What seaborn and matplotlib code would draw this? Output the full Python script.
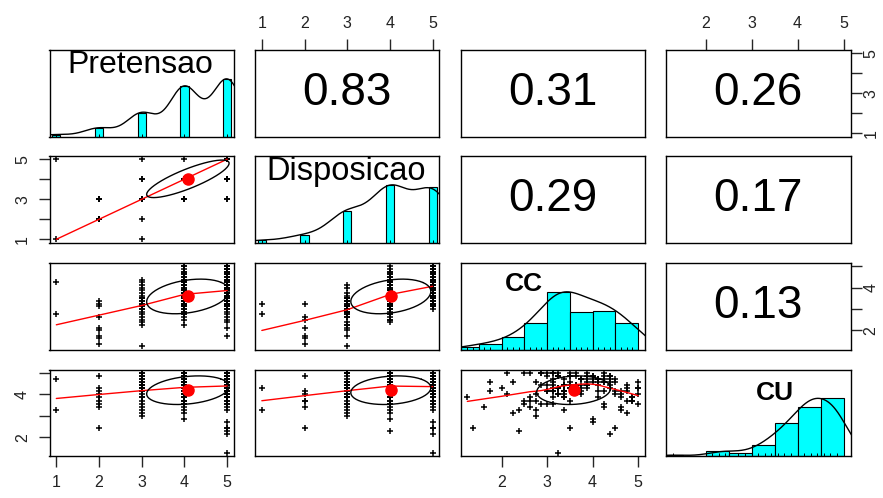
import numpy as np
import pandas as pd
import matplotlib
matplotlib.use("Agg")
import matplotlib.pyplot as plt
import seaborn as sns

# 150 respondents, listed roughly by Pretensao group
pretensao = [1, 1,
             2, 2, 2, 2, 2, 2, 2, 2, 2,
             3, 3, 3, 3, 3, 3, 3, 3, 3, 3,
             3, 3, 3, 3, 3, 3, 3, 3, 3, 3,
             4, 4, 3, 3, 3, 3, 3,
             4, 4, 4, 4, 4, 4, 4, 4, 4, 4,
             4, 4, 4, 4, 4, 4, 4, 4, 4, 4,
             4, 4, 4, 4, 4, 4, 4, 4, 4, 4,
             4, 4, 4, 4, 4, 4, 4, 4, 4, 4,
             4, 4, 4, 4, 4, 4, 4, 4, 4, 4,
             4,
             5, 5, 5, 5, 5, 5, 5, 5, 5, 5,
             5, 5, 5, 5, 5, 5, 5, 5, 5, 5,
             5, 5, 5, 5, 5, 5, 5, 5, 5, 5,
             5, 5, 5, 5, 5, 5, 5, 5, 5, 5,
             5, 5, 5, 5, 5, 5, 5, 5, 5, 5,
             5, 5, 5, 5, 5, 5, 5, 5, 5, 5,
             5]
disposicao = [1, 5,
              3, 2, 3, 2, 2, 3, 2, 2, 2,
              1, 2, 3, 3, 3, 3, 3, 3, 3, 3,
              3, 3, 3, 3, 3, 3, 3, 3, 3, 3,
              3, 3, 3, 3, 4, 4, 5,
              4, 4, 4, 4, 4, 4, 4, 4, 4, 4,
              4, 4, 3, 4, 4, 4, 4, 4, 3, 4,
              4, 4, 4, 4, 4, 4, 5, 3, 4, 4,
              4, 4, 4, 4, 4, 4, 4, 4, 4, 4,
              4, 4, 4, 4, 3, 4, 4, 4, 4, 4,
              4,
              4, 5, 5, 5, 5, 5, 4, 5, 5, 5,
              5, 4, 5, 5, 5, 4, 5, 5, 5, 5,
              5, 3, 5, 5, 5, 5, 5, 5, 4, 5,
              5, 5, 3, 5, 5, 5, 5, 5, 5, 5,
              4, 5, 5, 5, 5, 5, 5, 5, 5, 5,
              5, 5, 4, 5, 5, 5, 5, 5, 5, 5,
              4]
cc = [2.75, 4.25,
      3.375, 3.25, 3.125, 2.625, 2.125, 2.0, 1.75, 1.625, 1.375,
      3.25, 2.5, 1.25, 3.0, 3.375, 2.75, 3.5, 3.125, 4.0, 2.625,
      3.25, 3.5, 2.875, 3.75, 2.25, 3.375, 3.125, 4.125, 3.0, 2.375,
      3.25, 2.75, 3.625, 3.5, 4.25, 3.875, 4.375,
      3.25, 2.75, 3.625, 4.125, 3.125, 3.375, 4.625, 3.75, 3.0, 3.5,
      4.25, 3.125, 2.25, 3.875, 3.375, 4.5, 3.25, 3.625, 2.875, 4.75,
      3.125, 4.0, 3.5, 4.375, 3.25, 3.75, 5.0, 2.625, 3.375, 4.125,
      3.875, 3.0, 4.25, 3.125, 3.625, 4.875, 3.5, 2.5, 4.375, 3.75,
      3.25, 4.625, 3.875, 4.0, 2.875, 4.5, 3.375, 4.25, 4.75, 4.125,
      5.0,
      4.25, 3.5, 4.625, 3.125, 3.875, 4.375, 2.375, 3.25, 4.75, 3.625,
      4.125, 3.375, 5.0, 3.75, 4.5, 2.75, 4.875, 3.25, 4.0, 4.375,
      3.375, 1.75, 4.125, 3.625, 4.625, 3.125, 4.25, 3.875, 3.0, 4.75,
      3.5, 4.5, 2.125, 4.875, 3.75, 4.375, 3.25, 5.0, 4.0, 3.375,
      2.625, 4.125, 3.625, 4.625, 3.5, 4.25, 3.875, 4.75, 3.0, 4.5,
      3.125, 4.875, 2.5, 4.0, 3.375, 4.375, 3.75, 5.0, 3.25, 4.125,
      2.875]
cu = [3.29, 4.71,
      3.86, 4.86, 3.57, 3.71, 4.0, 4.29, 4.14, 3.43, 2.43,
      4.29, 3.71, 3.86, 4.43, 4.0, 3.0, 4.57, 4.14, 4.86, 3.43,
      4.29, 5.0, 3.57, 4.71, 3.14, 4.43, 3.86, 4.57, 4.14, 3.29,
      4.0, 3.71, 4.43, 4.29, 5.0, 4.71, 4.86,
      4.29, 4.57, 4.14, 4.71, 5.0, 4.43, 3.86, 4.29, 3.57, 4.86,
      4.14, 4.57, 4.57, 4.43, 4.71, 4.0, 4.86, 4.29, 5.0, 3.14,
      4.14, 4.57, 3.71, 4.43, 4.86, 4.71, 4.0, 3.86, 3.29, 3.86,
      5.0, 4.14, 3.43, 4.43, 4.86, 3.71, 4.29, 3.57, 4.71, 4.14,
      5.0, 4.0, 4.43, 2.86, 5.0, 4.57, 4.14, 4.86, 4.43, 4.71,
      4.29,
      4.57, 2.43, 4.14, 4.71, 4.86, 2.14, 2.29, 1.29, 4.29, 5.0,
      4.43, 3.86, 3.57, 4.71, 2.43, 4.0, 3.71, 4.29, 2.71, 4.86,
      4.14, 4.57, 4.71, 4.43, 3.29, 5.0, 4.57, 4.29, 5.0, 4.14,
      4.86, 4.71, 5.0, 3.86, 4.43, 4.29, 4.0, 4.57, 4.86, 4.14,
      5.0, 4.71, 4.29, 3.43, 4.43, 3.57, 4.57, 3.71, 4.86, 4.14,
      4.29, 3.86, 5.0, 4.71, 4.43, 4.57, 4.0, 4.29, 4.86, 4.14,
      4.43]

variables = ["Pretensao", "Disposicao", "CC", "CU"]
correlations = {(0, 1): "0.83", (0, 2): "0.31", (0, 3): "0.26",
                (1, 2): "0.29", (1, 3): "0.17", (2, 3): "0.13"}
hist_breaks = [1.0, 1.5, 2.0, 2.5, 3.0, 3.5, 4.0, 4.5, 5.0]

df = pd.DataFrame({"Pretensao": pretensao, "Disposicao": disposicao,
                   "CC": cc, "CU": cu})

sns.set_style("white")
plt.rcParams["font.family"] = ["Liberation Sans", "DejaVu Sans"]


def lowess(x, y, f=2 / 3, iters=3):
    x = np.asarray(x, float)
    y = np.asarray(y, float)
    o = np.argsort(x, kind="mergesort")
    x, y = x[o], y[o]
    n = len(x)
    ns = max(min(int(f * n + 1e-7), n), 2)
    d = np.abs(x[:, None] - x[None, :])
    h = np.sort(d, axis=1)[:, ns - 1]
    u = d / np.maximum(h, 1e-12)[:, None]
    w = np.where(u < 0.999, (1 - np.clip(u, 0, 1) ** 3) ** 3, 0.0)
    rob = np.ones(n)
    fit = np.zeros(n)
    for it in range(iters + 1):
        for i in range(n):
            wi = w[i] * rob
            sw = wi.sum()
            if sw <= 0:
                fit[i] = y[i]
                continue
            xm = (wi * x).sum() / sw
            ym = (wi * y).sum() / sw
            sxx = (wi * (x - xm) ** 2).sum()
            b = (wi * (x - xm) * (y - ym)).sum() / sxx if sxx > 1e-10 else 0.0
            fit[i] = ym + b * (x[i] - xm)
        res = y - fit
        s = np.median(np.abs(res))
        if it == iters or s < 1e-7 * np.mean(np.abs(y)):
            break
        r = np.clip(res / (6 * s), -1, 1)
        rob = (1 - r ** 2) ** 2
    return x, fit


def density_curve(v):
    v = np.asarray(v, float)
    q1, q3 = np.percentile(v, [25, 75])
    bw = 1.06 * min(v.std(ddof=1), (q3 - q1) / 1.34) * len(v) ** -0.2 * 1.2
    grid = np.linspace(v.min() - 3 * bw, v.max() + 3 * bw, 512)
    dens = np.exp(-0.5 * ((grid[:, None] - v[None, :]) / bw) ** 2).sum(axis=1)
    return grid, dens / dens.max()


def ellipse_xy(mx, my, sx, sy, r, seg=51):
    a = np.linspace(0, 2 * np.pi, seg + 1)
    circ = np.column_stack([np.cos(a), np.sin(a)])
    t = np.sign(r) / np.sqrt(2) if r != 0 else 1 / np.sqrt(2)
    shape = np.diag([np.sqrt(1 + r), np.sqrt(1 - r)]) @ np.array([[t, t], [-t, t]])
    e = circ @ shape
    return e[:, 0] * sx + mx, e[:, 1] * sy + my


def data_range(v):
    lo, hi = min(v), max(v)
    pad = 0.04 * (hi - lo)
    return lo - pad, hi + pad


W, H = 883, 498
col_left = [49.5, 255, 460.5, 666]
col_w = 184.5
row_top = [50, 156, 263, 369.5]
row_h = 86.5

fig = plt.figure(figsize=(W / 100, H / 100), dpi=100)
fig.patch.set_facecolor("white")

# label placement inside the diagonal panels (axes fractions)
name_pos = {"Pretensao": (0.49, 0.83, 23, "normal"),
            "Disposicao": (0.495, 0.82, 23.5, "normal"),
            "CC": (0.343, 0.76, 19, "bold"),
            "CU": (0.59, 0.73, 19, "bold")}

tick_kw = dict(length=8, width=1, pad=6, labelsize=11.5, labelcolor="#222222")

axes = {}
for i in range(4):
    for j in range(4):
        left = col_left[j] / W
        bottom = 1 - (row_top[i] + row_h) / H
        ax = fig.add_axes([left, bottom, col_w / W, row_h / H])
        axes[i, j] = ax
        for sp in ax.spines.values():
            sp.set_visible(True)
            sp.set_color("black")
            sp.set_linewidth(1)
        ax.set_facecolor("white")
        xv = df[variables[j]].values
        yv = df[variables[i]].values
        ax.set_xlim(*data_range(xv))
        if i == j:
            vals = xv
            uniq = np.unique(vals)
            hd = pd.DataFrame({"v": vals})
            if len(uniq) < 11:
                maxc = hd["v"].value_counts().max()
                hd["w"] = 1.0 / maxc
                sns.histplot(data=hd, x="v", weights="w", discrete=True,
                             shrink=0.195, ax=ax, color="#00FFFF",
                             edgecolor="black", linewidth=0.8, alpha=1)
            else:
                edges = [b + 1e-9 for b in hist_breaks]
                counts, _ = np.histogram(vals, bins=edges)
                hd["w"] = 1.0 / counts.max()
                sns.histplot(data=hd, x="v", weights="w", bins=edges, ax=ax,
                             color="#00FFFF", edgecolor="black", linewidth=0.8,
                             alpha=1)
            gx, gy = density_curve(vals)
            ax.plot(gx, gy, color="black", lw=1)
            ax.vlines(uniq, 0, 0.045, color="black", lw=0.7)
            ax.set_ylim(0, 1.5)
            nx, ny, fs, fw = name_pos[variables[i]]
            ax.text(nx, ny, variables[i], transform=ax.transAxes, ha="center",
                    va="center", fontsize=fs, fontweight=fw, color="black")
        elif i > j:
            ax.set_ylim(*data_range(yv))
            sns.scatterplot(x=xv, y=yv, ax=ax, marker="+", color="black",
                            s=16, linewidth=1.1)
            lx, ly = lowess(xv, yv)
            ax.plot(lx, ly, color="red", lw=1)
            r = float(correlations[j, i])
            ex, ey = ellipse_xy(xv.mean(), yv.mean(), xv.std(ddof=1),
                                yv.std(ddof=1), r)
            ax.plot(ex, ey, color="black", lw=1)
            ax.plot(xv.mean(), yv.mean(), "o", color="red", ms=8, mec="red")
        else:
            ax.set_ylim(*data_range(yv))
            ax.text(0.5, 0.5, correlations[i, j], transform=ax.transAxes,
                    ha="center", va="center", fontsize=33, color="black")
        ax.set_xlabel("")
        ax.set_ylabel("")
        ax.set_xticks([])
        ax.set_yticks([])


def top_axis(ax, ticks, labels):
    ax.set_xticks(ticks, labels)
    ax.tick_params(axis="x", top=True, bottom=False, labeltop=True,
                   labelbottom=False, **tick_kw)


def bottom_axis(ax, ticks, labels):
    ax.set_xticks(ticks, labels)
    ax.tick_params(axis="x", bottom=True, labelbottom=True, **tick_kw)


def side_axis(ax, ticks, labels, side):
    ax.set_yticks(ticks, labels)
    if side == "left":
        ax.tick_params(axis="y", left=True, labelleft=True, labelrotation=90,
                       **tick_kw)
    else:
        kw = dict(tick_kw, pad=1.5)
        ax.tick_params(axis="y", left=False, labelleft=False, right=True,
                       labelright=True, labelrotation=90, **kw)
    for t in ax.get_yticklabels():
        t.set_va("center")


top_axis(axes[0, 1], [1, 2, 3, 4, 5], ["1", "2", "3", "4", "5"])
top_axis(axes[0, 3], [2, 3, 4, 5], ["2", "3", "4", "5"])
side_axis(axes[0, 3], [1, 2, 3, 4, 5], ["1", "", "3", "", "5"], "right")
side_axis(axes[1, 0], [1, 2, 3, 4, 5], ["1", "", "3", "", "5"], "left")
side_axis(axes[2, 3], [2, 3, 4, 5], ["2", "", "4", ""], "right")
side_axis(axes[3, 0], [2, 3, 4, 5], ["2", "", "4", ""], "left")
bottom_axis(axes[3, 0], [1, 2, 3, 4, 5], ["1", "2", "3", "4", "5"])
bottom_axis(axes[3, 2], [2, 3, 4, 5], ["2", "3", "4", "5"])

fig.savefig("out.png", dpi=100, facecolor="white")
